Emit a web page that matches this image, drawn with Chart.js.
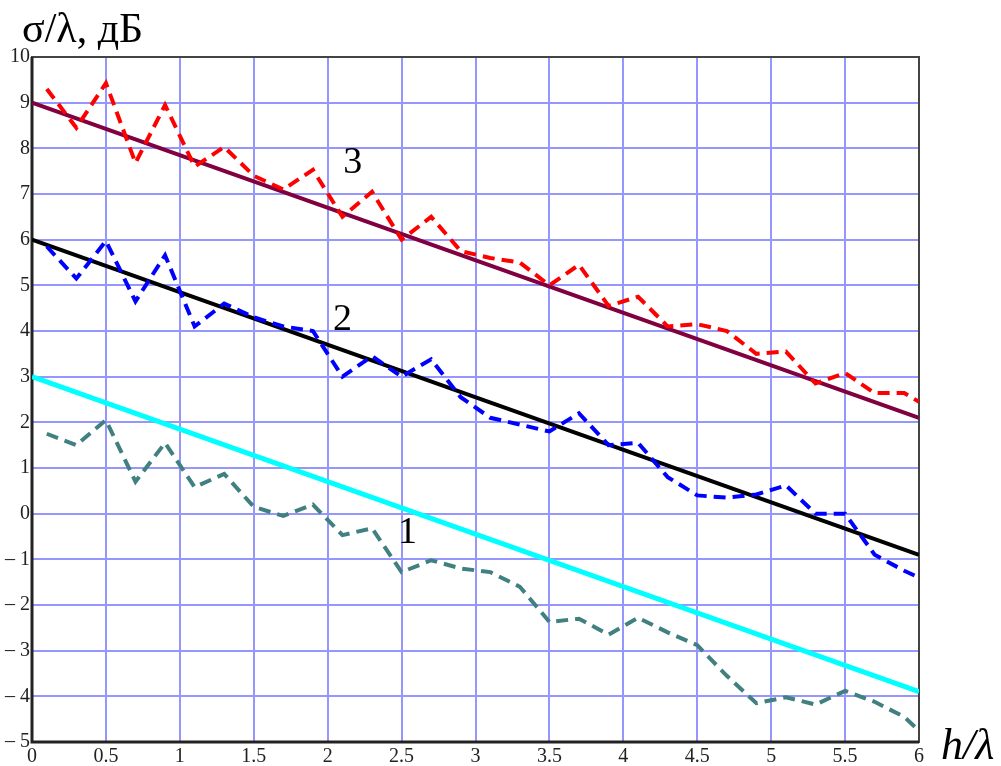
<!DOCTYPE html>
<html>
<head>
<meta charset="utf-8">
<script src="https://cdn.jsdelivr.net/npm/chart.js@4/dist/chart.umd.min.js"></script>
<style>
  html, body { margin: 0; padding: 0; background: #fff; }
  canvas { display: block; }
</style>
</head>
<body>
<canvas id="chart" width="1001" height="766"></canvas>
<script>
// h/lambda sample positions of the measured (dashed) curves
const hx = [
  0.1, 0.3, 0.5, 0.7, 0.9, 1.1, 1.3, 1.5, 1.7, 1.9, 2.1,
  2.3, 2.5, 2.7, 2.9, 3.1, 3.3, 3.5, 3.7, 3.9, 4.1,
  4.3, 4.5, 4.7, 4.9, 5.1, 5.3, 5.5, 5.7, 5.9, 6.0,
];
// Curve 3 (red dashed)
const curve3 = [
  9.3, 8.45, 9.43, 7.68, 8.95, 7.6, 8.03, 7.4, 7.1, 7.53, 6.5,
  7.05, 6.0, 6.5, 5.75, 5.6, 5.5, 5.0, 5.45, 4.55, 4.75,
  4.1, 4.15, 4.0, 3.5, 3.55, 2.85, 3.08, 2.64, 2.64, 2.45,
];
// Curve 2 (blue dashed)
const curve2 = [
  5.85, 5.15, 5.97, 4.65, 5.66, 4.1, 4.6, 4.3, 4.1, 4.0, 3.0,
  3.45, 3.0, 3.38, 2.55, 2.1, 1.95, 1.8, 2.2, 1.5, 1.55,
  0.8, 0.4, 0.35, 0.42, 0.62, 0.0, 0.0, -0.9, -1.25, -1.4,
];
// Curve 1 (teal dashed)
const curve1 = [
  1.75, 1.5, 2.05, 0.7, 1.55, 0.58, 0.87, 0.15, -0.05, 0.2, -0.47,
  -0.32, -1.28, -1.02, -1.2, -1.28, -1.6, -2.37, -2.3, -2.65, -2.28,
  -2.6, -2.88, -3.55, -4.15, -4.02, -4.18, -3.88, -4.12, -4.45, -4.75,
];
// Straight fits
const fitX = [0, 6];
const fit3 = [9.0, 2.1];
const fit2 = [6.0, -0.9];
const fit1 = [3.0, -3.9];

// Curve number labels: [text, h, value]
const curveLabels = [
  ['3', 2.17, 7.68],
  ['2', 2.1, 4.24],
  ['1', 2.54, -0.42],
];

const toPoints = (xs, ys) => xs.map((x, i) => ({ x, y: ys[i] }));

const SERIF = '"Liberation Serif", "Times New Roman", serif';
const GRID = 'rgb(150, 150, 255)';

const dashed = (label, data, color) => ({
  label,
  data: toPoints(hx, data),
  borderColor: color,
  borderWidth: 4,
  borderDash: [12, 7],
  pointRadius: 0,
  tension: 0,
  fill: false,
});

const solid = (label, data, color, width) => ({
  label,
  data: toPoints(fitX, data),
  borderColor: color,
  borderWidth: width,
  pointRadius: 0,
  tension: 0,
  fill: false,
});

const ctx = document.getElementById('chart');
// eslint-disable-next-line no-unused-vars
const chart = new Chart(ctx, {
  type: 'line',
  data: {
    datasets: [
      dashed('3 measured', curve3, '#ff0000'),
      dashed('2 measured', curve2, '#0000ff'),
      dashed('1 measured', curve1, '#408080'),
      solid('3 fit', fit3, '#800040', 4),
      solid('2 fit', fit2, '#000000', 4),
      solid('1 fit', fit1, '#00ffff', 5),
    ],
  },
  options: {
    responsive: false,
    animation: false,
    devicePixelRatio: 1,
    layout: {
      padding: { top: 57, right: 82, left: 0, bottom: 0 },
    },
    scales: {
      x: {
        type: 'linear',
        min: 0,
        max: 6,
        afterFit: (scale) => { scale.height = 24; },
        grid: { color: GRID, lineWidth: 2, drawTicks: false },
        border: { display: false },
        ticks: {
          stepSize: 0.5,
          padding: 3,
          color: '#222',
          font: { family: SERIF, size: 20 },
          maxRotation: 0,
          callback: (v) => String(v),
        },
      },
      y: {
        type: 'linear',
        min: -5,
        max: 10,
        afterFit: (scale) => { scale.width = 32; },
        grid: { color: GRID, lineWidth: 2, drawTicks: false },
        border: { display: false },
        ticks: {
          stepSize: 1,
          padding: 2,
          color: '#222',
          font: { family: SERIF, size: 20 },
          callback: (v) => (v < 0 ? `\u2013 ${Math.abs(v)}` : String(v)),
        },
      },
    },
    plugins: {
      legend: { display: false },
      tooltip: { enabled: false },
    },
  },
  plugins: [{
    id: 'frameAndText',
    beforeDatasetsDraw(c) {
      const { ctx: g, chartArea: a } = c;
      g.save();
      g.strokeStyle = '#444';
      g.lineWidth = 2;
      g.strokeRect(a.left, a.top, a.right - a.left, a.bottom - a.top);
      // darker left and bottom axis
      g.strokeStyle = '#222';
      g.lineWidth = 3;
      g.beginPath();
      g.moveTo(a.left, a.top);
      g.lineTo(a.left, a.bottom);
      g.lineTo(a.right, a.bottom);
      g.stroke();
      g.restore();
    },
    afterDatasetsDraw(c) {
      const { ctx: g, chartArea: a, scales: { x, y } } = c;
      g.save();
      g.fillStyle = '#000';
      g.textAlign = 'center';
      g.textBaseline = 'middle';
      g.font = `38px ${SERIF}`;
      curveLabels.forEach(([t, hv, v]) => {
        g.fillText(t, x.getPixelForValue(hv), y.getPixelForValue(v));
      });
      // axis titles
      g.textAlign = 'left';
      g.textBaseline = 'alphabetic';
      g.font = `42px ${SERIF}`;
      g.fillText('\u03c3/\u03bb, \u0434\u0411', a.left - 10, a.top - 15);
      g.font = `italic 44px ${SERIF}`;
      g.fillText('h/\u03bb', a.right + 22, a.bottom + 17);
      g.restore();
    },
  }],
});
</script>
</body>
</html>
